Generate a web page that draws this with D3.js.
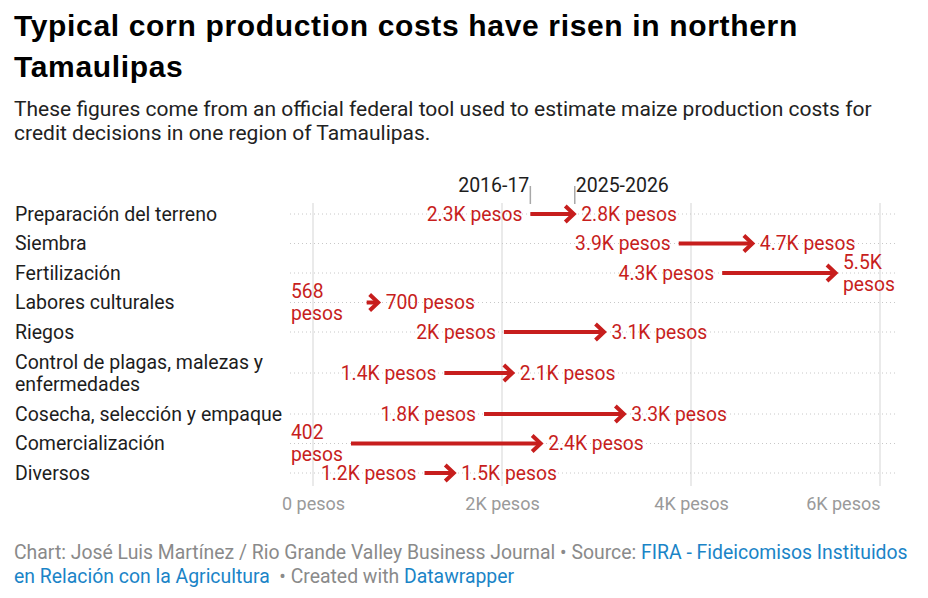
<!DOCTYPE html>
<html>
<head>
<meta charset="utf-8">
<script src="https://cdn.jsdelivr.net/npm/d3@7"></script>
<style>
  html, body { margin: 0; padding: 0; background: #fff; }
  svg { display: block; }
  text { white-space: pre; }
</style>
</head>
<body>
<svg id="chart" width="928" height="598"></svg>
<script>
// ---- data ----
const categories = [
  "Preparación del terreno",
  "Siembra",
  "Fertilización",
  "Labores culturales",
  "Riegos",
  "Control de plagas, malezas y\nenfermedades",
  "Cosecha, selección y empaque",
  "Comercialización",
  "Diversos"
];
const values2016 = [2300, 3870, 4330, 568, 2020, 1390, 1810, 402, 1180];
const values2025 = [2770, 4660, 5540, 700, 3090, 2120, 3300, 2420, 1500];
const labels2016 = ["2.3K pesos", "3.9K pesos", "4.3K pesos", "568 pesos", "2K pesos", "1.4K pesos", "1.8K pesos", "402 pesos", "1.2K pesos"];
const labels2025 = ["2.8K pesos", "4.7K pesos", "5.5K pesos", "700 pesos", "3.1K pesos", "2.1K pesos", "3.3K pesos", "2.4K pesos", "1.5K pesos"];
const tickValues = [0, 2000, 4000, 6000];
const tickLabels = ["0 pesos", "2K pesos", "4K pesos", "6K pesos"];
const seriesNames = ["2016-17", "2025-2026"];

// ---- styles ----
const RED = "#c71e1d";
const BODY = "Roboto, 'Noto Sans', sans-serif";
const HEAD = "'Liberation Sans', Arial, Helvetica, sans-serif";
const VFS = 19.3;

const svg = d3.select("#chart");

// Title & subtitle
const title = svg.append("text").attr("font-family", HEAD).attr("font-weight", 700)
  .attr("font-size", 30).attr("letter-spacing", 0.66).attr("fill", "#000");
title.append("tspan").attr("x", 14).attr("y", 36).text("Typical corn production costs have risen in northern");
title.append("tspan").attr("x", 14).attr("y", 77).text("Tamaulipas");

const sub = svg.append("text").attr("font-family", BODY).attr("font-size", 21).attr("fill", "#222");
sub.append("tspan").attr("x", 14).attr("y", 116).text("These figures come from an official federal tool used to estimate maize production costs for");
sub.append("tspan").attr("x", 14).attr("y", 140).text("credit decisions in one region of Tamaulipas.");

// ---- scales ----
const x = d3.scaleLinear().domain([0, 6000]).range([313, 880]);

// rows: variable height depending on label line count
const rows = categories.map((c, i) => ({ label: c, lines: c.split("\n").length, i }));
let yCursor = 199.25;
rows.forEach(r => {
  const h = 29.5 + (r.lines - 1) * 23;
  r.cy = yCursor + h / 2;
  yCursor += h;
});
const plotTop = 203, plotBottom = 486;
const plotLeft = 290, plotRight = 895;

// vertical gridlines
svg.append("g").selectAll("line").data(tickValues).join("line")
  .attr("x1", d => x(d)).attr("x2", d => x(d))
  .attr("y1", plotTop).attr("y2", plotBottom)
  .attr("stroke", "#e3e3e3").attr("stroke-width", 1.5);

// axis tick labels
const axis = d3.axisBottom(x).tickValues(tickValues).tickFormat((d, i) => tickLabels[i]).tickSize(0);
const gAxis = svg.append("g").attr("transform", `translate(0,${plotBottom + 5})`).call(axis);
gAxis.select(".domain").remove();
gAxis.selectAll("text").attr("font-family", BODY).attr("font-size", 18).attr("fill", "#9a9a9a").attr("dy", "0.9em")
  .attr("text-anchor", (d, i) => i === tickValues.length - 1 ? "end" : "middle");

// horizontal dotted row lines
svg.append("g").selectAll("line").data(rows).join("line")
  .attr("x1", plotLeft).attr("x2", plotRight)
  .attr("y1", d => d.cy).attr("y2", d => d.cy)
  .attr("stroke", "#c8c8c8").attr("stroke-width", 1).attr("stroke-dasharray", "1,3");

// row labels
const rl = svg.append("g").selectAll("text").data(rows).join("text")
  .attr("font-family", BODY).attr("font-size", 19.5).attr("fill", "#1d1d1d");
rl.each(function (d) {
  const parts = d.label.split("\n");
  const t = d3.select(this);
  parts.forEach((p, k) => {
    t.append("tspan").attr("x", 15)
      .attr("y", d.cy + (k - (parts.length - 1) / 2) * 22)
      .attr("dy", "0.35em").text(p);
  });
});

// arrows
const gA = svg.append("g");
rows.forEach((r, i) => {
  const x0 = x(values2016[i]);
  const x1 = x(values2025[i]);
  const y = r.cy;
  gA.append("line").attr("x1", x0).attr("x2", x1 - 2).attr("y1", y).attr("y2", y)
    .attr("stroke", RED).attr("stroke-width", 4);
  gA.append("path")
    .attr("d", d3.line()([[x1 - 9.5, y - 8], [x1 - 1, y], [x1 - 9.5, y + 8]]))
    .attr("fill", "none").attr("stroke", RED).attr("stroke-width", 4)
    .attr("stroke-linejoin", "miter").attr("stroke-linecap", "butt");
});

// value labels with wrapping when too wide
function placeLabel(str, anchorX, y, side) {
  const t = gA.append("text").attr("font-family", BODY).attr("font-size", VFS).attr("fill", RED);
  t.append("tspan").text(str);
  const w = t.node().getComputedTextLength();
  t.remove();
  const parts = str.split(" ");
  if (side === "left") {
    if (anchorX - w < plotLeft) {
      const tt = gA.append("text").attr("font-family", BODY).attr("font-size", VFS).attr("fill", RED);
      parts.forEach((p, k) => tt.append("tspan").attr("x", plotLeft + 1)
        .attr("y", y + (k - 0.5) * 22).attr("dy", "0.35em").text(p));
    } else {
      gA.append("text").attr("font-family", BODY).attr("font-size", VFS).attr("fill", RED)
        .attr("x", anchorX).attr("y", y).attr("dy", "0.35em").attr("text-anchor", "end").text(str);
    }
  } else {
    if (anchorX + w > 915) {
      const tt = gA.append("text").attr("font-family", BODY).attr("font-size", VFS).attr("fill", RED);
      parts.forEach((p, k) => tt.append("tspan").attr("x", anchorX)
        .attr("y", y + (k - 0.5) * 22).attr("dy", "0.35em").text(p));
    } else {
      gA.append("text").attr("font-family", BODY).attr("font-size", VFS).attr("fill", RED)
        .attr("x", anchorX).attr("y", y).attr("dy", "0.35em").text(str);
    }
  }
}
rows.forEach((r, i) => {
  placeLabel(labels2016[i], x(values2016[i]) - 8, r.cy, "left");
  placeLabel(labels2025[i], x(values2025[i]) + 6.5, r.cy, "right");
});

// series header annotations above first row
const hx0 = x(values2016[0]), hx1 = x(values2025[0]);
svg.append("g").selectAll("line").data([hx0, hx1]).join("line")
  .attr("x1", d => d).attr("x2", d => d).attr("y1", 186).attr("y2", 204)
  .attr("stroke", "#a8a8a8").attr("stroke-width", 1.5);
svg.append("text").attr("font-family", BODY).attr("font-size", 19.5).attr("fill", "#1d1d1d")
  .attr("x", hx0 - 1).attr("y", 192).attr("text-anchor", "end").text(seriesNames[0]);
svg.append("text").attr("font-family", BODY).attr("font-size", 19.5).attr("fill", "#1d1d1d")
  .attr("x", hx1 + 1).attr("y", 192).text(seriesNames[1]);

// footer
const GRAY = "#8a8a8a", BLUE = "#1a84c7";
const f1 = svg.append("text").attr("font-family", BODY).attr("font-size", 19.4).attr("x", 14).attr("y", 559);
f1.append("tspan").attr("fill", GRAY).text("Chart: José Luis Martínez / Rio Grande Valley Business Journal • Source: ");
f1.append("tspan").attr("fill", BLUE).text("FIRA - Fideicomisos Instituidos");
const f2 = svg.append("text").attr("font-family", BODY).attr("font-size", 19.4).attr("x", 14).attr("y", 583);
f2.append("tspan").attr("fill", BLUE).text("en Relación con la Agricultura");
f2.append("tspan").attr("fill", GRAY).text("  • Created with ");
f2.append("tspan").attr("fill", BLUE).text("Datawrapper");
</script>
</body>
</html>
